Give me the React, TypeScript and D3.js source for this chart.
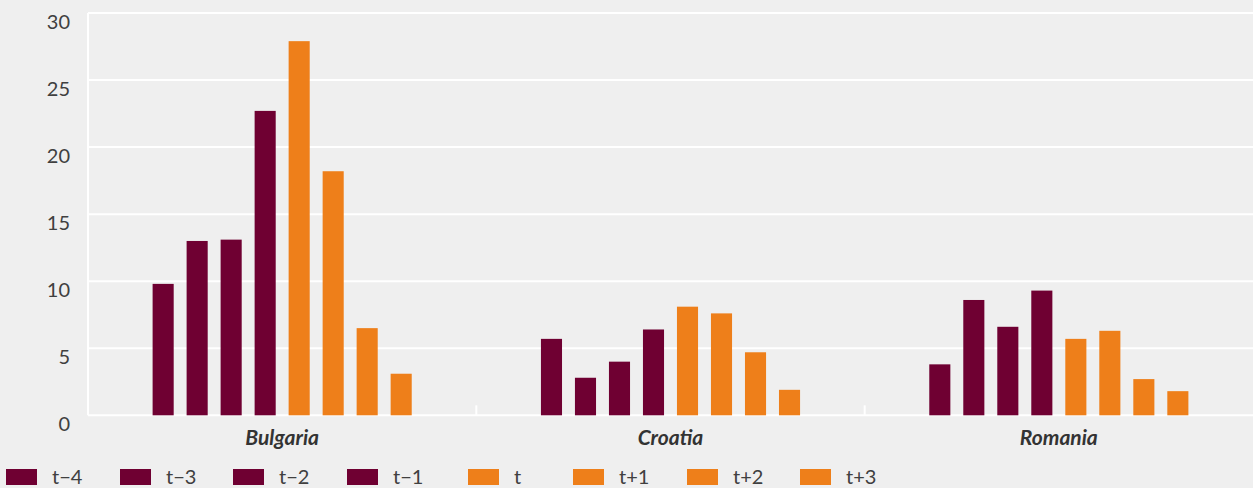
import React from "react";
import * as d3 from "d3";

const countries = ["Bulgaria", "Croatia", "Romania"];
const periods = ["t\u22124", "t\u22123", "t\u22122", "t\u22121", "t", "t+1", "t+2", "t+3"];
const bulgaria = [9.8, 13.0, 13.1, 22.7, 27.9, 18.2, 6.5, 3.1];
const croatia = [5.7, 2.8, 4.0, 6.4, 8.1, 7.6, 4.7, 1.9];
const romania = [3.8, 8.6, 6.6, 9.3, 5.7, 6.3, 2.7, 1.8];
const seriesValues = [bulgaria, croatia, romania];
const yTicks = [0, 5, 10, 15, 20, 25, 30];
const periodColors = ["#6f0032", "#6f0032", "#6f0032", "#6f0032", "#ee7f1a", "#ee7f1a", "#ee7f1a", "#ee7f1a"];

const W = 1253;
const H = 488;
const margin = { left: 88, right: 0, top: 13, bottom: 73 };
const legendX = [6, 120, 233, 347, 468, 573, 687, 800];

export default function App() {
  const x0 = d3.scaleBand<string>().domain(countries).range([margin.left, W - margin.right]).paddingInner(0).paddingOuter(0);
  const x1 = d3.scaleBand<string>().domain(periods).range([0, x0.bandwidth()]).paddingInner(0.38).paddingOuter(1.9);
  const y = d3.scaleLinear().domain([0, 30]).range([H - margin.bottom + 0.3, margin.top]);

  const font = "Lato, 'Open Sans', sans-serif";
  return (
    <svg width={W} height={H} style={{ position: "absolute", left: 0, top: 0, display: "block", background: "#efefef" }}>
      <rect x={0} y={0} width={W} height={H} fill="#efefef" />
      {yTicks.map((t) => (
        <g key={t}>
          <line x1={margin.left} x2={W} y1={y(t)} y2={y(t)} stroke="#ffffff" strokeWidth={2} />
          <text x={70} y={y(t) + 7.5} textAnchor="end" dominantBaseline="central" fontFamily={font} fontSize={20} fill="#404040">
            {t}
          </text>
        </g>
      ))}
      <line x1={margin.left} x2={margin.left} y1={y(30)} y2={y(0)} stroke="#ffffff" strokeWidth={2} />
      {countries.slice(1).map((c) => (
        <line key={c} x1={x0(c)!} x2={x0(c)!} y1={y(0) - 10} y2={y(0)} stroke="#ffffff" strokeWidth={2} />
      ))}
      {countries.map((c, ci) => (
        <g key={c} transform={`translate(${x0(c)},0)`}>
          {periods.map((p, pi) => (
            <rect
              key={p}
              x={x1(p)!}
              width={x1.bandwidth()}
              y={y(seriesValues[ci][pi])}
              height={y(0) - y(seriesValues[ci][pi])}
              fill={periodColors[pi]}
            />
          ))}
          <text x={x0.bandwidth() / 2} y={445} textAnchor="middle" fontFamily={font} fontStyle="italic" fontWeight="bold" fontSize={21} fill="#333333">
            {c}
          </text>
        </g>
      ))}
      {periods.map((p, i) => (
        <g key={p} transform={`translate(${legendX[i]},469)`}>
          <rect x={0} y={0} width={31} height={16} fill={periodColors[i]} />
          <text x={46} y={15} fontFamily={font} fontSize={20} fill="#404040">
            {p}
          </text>
        </g>
      ))}
    </svg>
  );
}
